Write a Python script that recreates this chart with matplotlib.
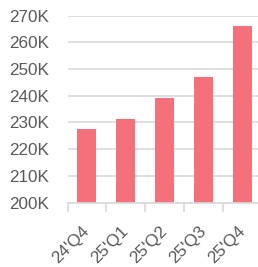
import matplotlib.pyplot as plt
import matplotlib.transforms as mtransforms
import numpy as np
from matplotlib.ticker import FuncFormatter

quarters = ["24'Q4", "25'Q1", "25'Q2", "25'Q3", "25'Q4"]
values = [227.6, 231.3, 239.2, 247.0, 266.2]  # thousands
y_ticks = [200, 210, 220, 230, 240, 250, 260, 270]

text_col = '#595959'
grid_col = '#D9D9D9'
bar_col = '#F4717B'

plt.rcParams['font.family'] = ['Liberation Sans', 'DejaVu Sans']

fig = plt.figure(figsize=(2.58, 2.67), dpi=100)
ax = fig.add_axes([67.5 / 258, 64.3 / 267, 194 / 258, 187.2 / 267])

x = np.arange(len(quarters))
ax.bar(x, values, width=0.49, color=bar_col, zorder=3)

ax.set_xlim(-0.5, len(quarters) - 0.5)
ax.set_ylim(200, 270)
ax.set_yticks(y_ticks)
ax.yaxis.set_major_formatter(FuncFormatter(lambda v, p: f'{int(v)}K'))
ax.grid(axis='y', color=grid_col, linewidth=1.2, zorder=0)

for s in ['top', 'right', 'left']:
    ax.spines[s].set_visible(False)
ax.spines['bottom'].set_color(grid_col)
ax.spines['bottom'].set_linewidth(1.2)
ax.spines['bottom'].set_zorder(4)

ax.tick_params(axis='y', length=0, pad=13, labelsize=12.3, labelcolor=text_col)
ax.set_xticks(x)
ax.set_xticklabels(quarters, rotation=45, ha='right', rotation_mode='anchor')
ax.tick_params(axis='x', which='major', length=0, pad=15, labelsize=12.3, labelcolor=text_col)
ax.set_xticks(np.arange(len(quarters) + 1) - 0.5, minor=True)
ax.tick_params(axis='x', which='minor', length=6.5, width=1.2, color=grid_col, direction='out')

# nudge the rotated labels left so they sit like the original
shift = mtransforms.ScaledTranslation(-5 / 100, 0, fig.dpi_scale_trans)
for lbl in ax.get_xticklabels():
    lbl.set_transform(lbl.get_transform() + shift)

fig.savefig('out.png', dpi=100)
